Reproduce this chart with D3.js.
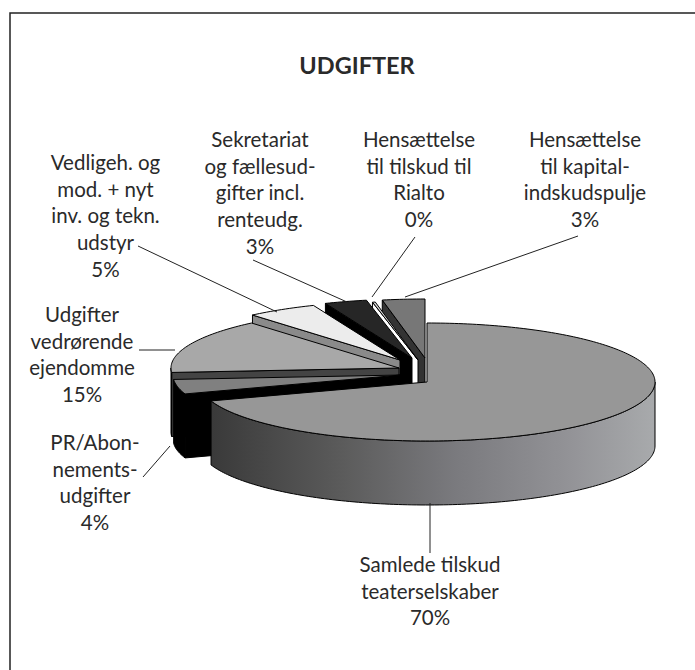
<!DOCTYPE html>
<html>
<head>
<meta charset="utf-8">
<script src="https://cdn.jsdelivr.net/npm/d3@7"></script>
<style>
  body { margin: 0; background: #fff; }
  text { font-family: "Lato", sans-serif; fill: #2a2a2a; }
</style>
</head>
<body>
<script>
const width = 695;
const height = 670;

// slices, clockwise from 12 o'clock
const categories = [
  ["Samlede tilskud", "teaterselskaber"],
  ["PR/Abon-", "nements-", "udgifter"],
  ["Udgifter", "vedrørende", "ejendomme"],
  ["Vedligeh. og", "mod. + nyt", "inv. og tekn.", "udstyr"],
  ["Sekretariat", "og fællesud-", "gifter incl.", "renteudg."],
  ["Hensættelse", "til tilskud til", "Rialto"],
  ["Hensættelse", "til kapital-", "indskudspulje"]
];
const values = [69.8, 4, 15, 5, 3, 0.2, 3];

const topColors = ["#979797", "#808080", "#a8a8a8", "#ececec", "#262626", "#d0d0d0", "#777777"];
const faceColors = ["#555555", "#000000", "#444444", "#8a8a8a", "#000000", "#ffffff", "#333333"];

// layout only: where each slice's tip sits after the explode
const tips = [[427, 382], [401, 375], [399, 368], [400, 360], [412, 358], [418, 360], [425, 358]];
const labelPos = [[430, 572], [95, 450], [82, 322], [105.5, 170], [260, 147], [419, 147], [585, 147]];
const leaders = [
  [[430, 503], [430, 553]],
  [[143, 477], [170, 446]],
  [[139, 350], [175, 350]],
  [[138, 246], [277, 312]],
  [[253, 260], [347, 302]],
  [[415, 237], [372, 297]],
  [[578, 236], [405, 297]]
];

const rx = 228, ry = 59, depth = 64;
const lineGap = 26.7;

const svg = d3.select("body").append("svg")
  .attr("width", width)
  .attr("height", height);

// frame runs off the right edge and the bottom
svg.append("path")
  .attr("d", `M10,${height} V13 H${width}`)
  .attr("fill", "none")
  .attr("stroke", "#222")
  .attr("stroke-width", 1.5);

svg.append("text")
  .attr("x", 357)
  .attr("y", 74)
  .attr("text-anchor", "middle")
  .style("font-size", "23.5px")
  .style("font-weight", 700)
  .text("UDGIFTER");

// shading on the rim of the big slice
const grad = svg.append("defs").append("linearGradient")
  .attr("id", "rim")
  .attr("gradientUnits", "userSpaceOnUse")
  .attr("x1", 212).attr("x2", 655).attr("y1", 0).attr("y2", 0);
[[0, "#3a3a3a"], [0.3, "#5c5c5c"], [0.55, "#7a7a7e"], [0.8, "#929296"], [1, "#a8aaac"]].forEach(s => {
  grad.append("stop").attr("offset", s[0]).attr("stop-color", s[1]);
});

const pie = d3.pie().sort(null).value(d => d);
const arcs = pie(values);

// projected point on the tilted circle
function project(tip, a) {
  return [tip[0] + rx * Math.sin(a), tip[1] - ry * Math.cos(a)];
}

function arcPoints(tip, a0, a1) {
  const n = Math.max(2, Math.ceil((a1 - a0) / 0.02));
  return d3.range(n + 1).map(i => project(tip, a0 + (a1 - a0) * i / n));
}

const line = d3.line();
const drop = p => [p[0], p[1] + depth];

// back to front: last slices sit behind the big one
arcs.map((d, i) => i).reverse().forEach(i => {
  const tip = tips[i];
  const pts = arcPoints(tip, arcs[i].startAngle, arcs[i].endAngle);
  const first = pts[0], last = pts[pts.length - 1];
  const g = svg.append("g").attr("stroke", "#000").attr("stroke-width", 1).attr("stroke-linejoin", "round");

  // cut faces turned towards the viewer
  if (first[0] < tip[0]) {
    g.append("path")
      .attr("d", line([tip, first, drop(first), drop(tip)]) + "Z")
      .attr("fill", faceColors[i]);
  }
  if (last[0] > tip[0]) {
    g.append("path")
      .attr("d", line([last, tip, drop(tip), drop(last)]) + "Z")
      .attr("fill", faceColors[i]);
  }

  // outer rim, only the front half of the circle
  const lo = Math.max(arcs[i].startAngle, Math.PI / 2);
  const hi = Math.min(arcs[i].endAngle, Math.PI * 1.5);
  if (hi > lo) {
    const rim = arcPoints(tip, lo, hi);
    g.append("path")
      .attr("d", line(rim.concat(rim.map(drop).reverse())) + "Z")
      .attr("fill", i === 0 ? "url(#rim)" : "#000");
  }

  g.append("path")
    .attr("d", line([tip].concat(pts)) + "Z")
    .attr("fill", topColors[i]);
});

// labels with the rounded percent as last line
categories.forEach((lines, i) => {
  const all = lines.concat(Math.round(values[i]) + "%");
  svg.append("g").selectAll("text")
    .data(all)
    .enter().append("text")
    .attr("x", labelPos[i][0])
    .attr("y", (d, j) => labelPos[i][1] + j * lineGap)
    .attr("text-anchor", "middle")
    .style("font-size", "20.5px")
    .text(d => d);
});

svg.append("g").selectAll("line")
  .data(leaders)
  .enter().append("line")
  .attr("x1", d => d[0][0])
  .attr("y1", d => d[0][1])
  .attr("x2", d => d[1][0])
  .attr("y2", d => d[1][1])
  .attr("stroke", "#222")
  .attr("stroke-width", 1);
</script>
</body>
</html>
